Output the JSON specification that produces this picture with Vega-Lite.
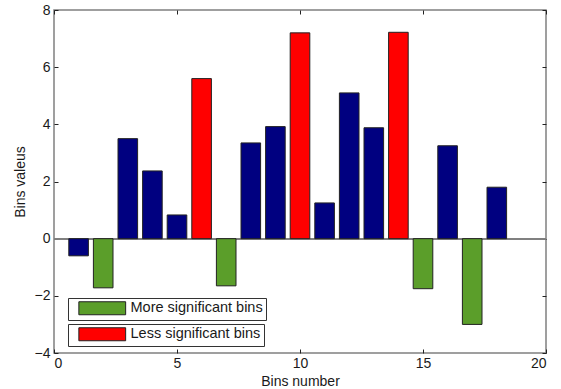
{
  "$schema": "https://vega.github.io/schema/vega-lite/v6.json",
  "autosize": {"type": "none"},
  "padding": {"left": 54, "top": 10, "right": 15, "bottom": 36},
  "width": 492,
  "height": 343,
  "background": "white",
  "config": {
    "font": "Liberation Sans",
    "view": {"stroke": "#808080", "strokeWidth": 1.5},
    "axis": {
      "grid": false,
      "domain": false,
      "tickColor": "#222",
      "tickSize": -4,
      "labelFont": "Liberation Sans",
      "labelFontSize": 14,
      "labelColor": "#1a1a1a",
      "titleFont": "Liberation Sans",
      "titleFontSize": 14,
      "titleFontWeight": "normal",
      "titleColor": "#1a1a1a"
    },
    "legend": {
      "orient": "none",
      "legendX": 14,
      "direction": "vertical",
      "strokeColor": "#333",
      "fillColor": "white",
      "padding": 3,
      "symbolType": "M-3.6,-1H3.6V1H-3.6Z",
      "symbolSize": 169,
      "symbolOffset": 24,
      "symbolStrokeColor": "#222",
      "symbolStrokeWidth": 1,
      "symbolOpacity": 1,
      "labelFont": "Liberation Sans",
      "labelFontSize": 14.5,
      "labelColor": "#1a1a1a",
      "labelOffset": 21
    }
  },
  "data": {
    "values": [
      {"bin": 1, "value": -0.6, "type": "normal"},
      {"bin": 2, "value": -1.72, "type": "More significant bins"},
      {"bin": 3, "value": 3.5, "type": "normal"},
      {"bin": 4, "value": 2.37, "type": "normal"},
      {"bin": 5, "value": 0.83, "type": "normal"},
      {"bin": 6, "value": 5.6, "type": "Less significant bins"},
      {"bin": 7, "value": -1.65, "type": "More significant bins"},
      {"bin": 8, "value": 3.35, "type": "normal"},
      {"bin": 9, "value": 3.92, "type": "normal"},
      {"bin": 10, "value": 7.2, "type": "Less significant bins"},
      {"bin": 11, "value": 1.25, "type": "normal"},
      {"bin": 12, "value": 5.1, "type": "normal"},
      {"bin": 13, "value": 3.88, "type": "normal"},
      {"bin": 14, "value": 7.22, "type": "Less significant bins"},
      {"bin": 15, "value": -1.75, "type": "More significant bins"},
      {"bin": 16, "value": 3.25, "type": "normal"},
      {"bin": 17, "value": -3.0, "type": "More significant bins"},
      {"bin": 18, "value": 1.8, "type": "normal"}
    ]
  },
  "layer": [
    {
      "mark": {"type": "rule", "color": "#808080", "strokeWidth": 1.2},
      "encoding": {
        "y": {"datum": 0, "type": "quantitative", "scale": {"domain": [-4, 8]}, "axis": null}
      }
    },
    {
      "transform": [{"filter": "datum.type === 'normal'"}],
      "mark": {"type": "bar", "width": 19.6, "fill": "#000080", "stroke": "#222", "strokeWidth": 1},
      "encoding": {
        "x": {"field": "bin", "type": "quantitative", "scale": {"domain": [0, 20], "nice": false, "padding": 0},
          "axis": {"orient": "bottom", "values": [0, 5, 10, 15, 20], "title": "Bins number", "labelPadding": 7, "titlePadding": 4}},
        "y": {"field": "value", "type": "quantitative", "scale": {"domain": [-4, 8], "nice": false, "padding": 0},
          "axis": {"orient": "left", "values": [-4, -2, 0, 2, 4, 6, 8], "title": "Bins valeus", "labelPadding": 8, "titlePadding": 7}},
        "y2": {"datum": 0}
      }
    },
    {
      "transform": [{"filter": "datum.type === 'More significant bins'"}],
      "mark": {"type": "bar", "width": 19.6, "stroke": "#222", "strokeWidth": 1, "opacity": 1},
      "encoding": {
        "x": {"field": "bin", "type": "quantitative", "axis": null},
        "y": {"field": "value", "type": "quantitative", "axis": null},
        "y2": {"datum": 0},
        "fill": {"field": "type", "type": "nominal",
          "scale": {"domain": ["More significant bins"], "range": ["#5b9e2a"]},
          "legend": {"title": null, "legendY": 288}}
      }
    },
    {
      "transform": [{"filter": "datum.type === 'Less significant bins'"}],
      "mark": {"type": "bar", "width": 19.6, "stroke": "#222", "strokeWidth": 1, "opacity": 1},
      "encoding": {
        "x": {"field": "bin", "type": "quantitative", "axis": null},
        "y": {"field": "value", "type": "quantitative", "axis": null},
        "y2": {"datum": 0},
        "fill": {"field": "type", "type": "nominal",
          "scale": {"domain": ["Less significant bins"], "range": ["#ff0000"]},
          "legend": {"title": null, "legendY": 314}}
      }
    },
    {
      "mark": {"type": "point", "opacity": 0},
      "encoding": {
        "x": {"field": "bin", "type": "quantitative",
          "axis": {"orient": "top", "values": [0, 5, 10, 15, 20], "labels": false, "title": null}},
        "y": {"field": "value", "type": "quantitative",
          "axis": {"orient": "right", "values": [-4, -2, 0, 2, 4, 6, 8], "labels": false, "title": null}}
      }
    }
  ],
  "resolve": {"scale": {"fill": "independent"}, "axis": {"x": "independent", "y": "independent"}}
}
